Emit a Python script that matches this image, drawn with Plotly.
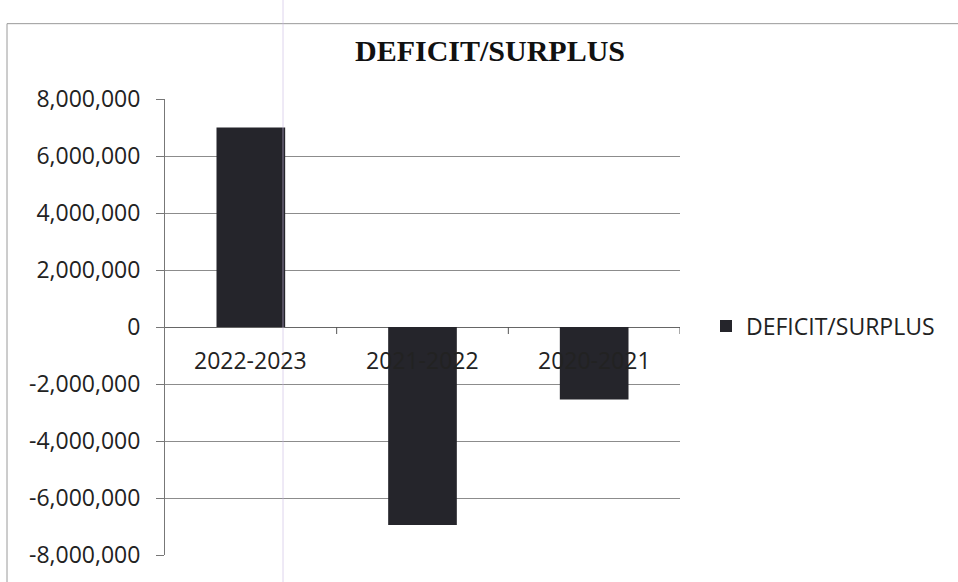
import plotly.graph_objects as go

# Data
periods = ["2022-2023", "2021-2022", "2020-2021"]
balance = [7000000, -6950000, -2540000]
series_name = "DEFICIT/SURPLUS"
tick_values = [8000000, 6000000, 4000000, 2000000, 0, -2000000, -4000000, -6000000, -8000000]
tick_labels = ["8,000,000", "6,000,000", "4,000,000", "2,000,000", "0",
               "-2,000,000", "-4,000,000", "-6,000,000", "-8,000,000"]

W, H = 958, 582
L, R, T, B = 165, 278, 99, 23
plot_w = W - L - R
plot_h = H - T - B


def px_to_paper_x(px):
    return (px - L) / plot_w


def px_to_paper_y(py):
    return (H - B - py) / plot_h


fig = go.Figure()
fig.add_trace(go.Bar(
    x=periods, y=balance, name=series_name,
    width=0.4, marker=dict(color="#25252b", line=dict(width=0)),
    showlegend=True,
))

# Category labels sit just below the zero line
annotations = [
    dict(x=p, y=0, xref="x", yref="y", text=p, showarrow=False,
         yshift=-33, yanchor="middle", xanchor="center",
         font=dict(family="Open Sans", size=23, color="#222222"))
    for p in periods
]
annotations.append(dict(
    x=px_to_paper_x(490), y=px_to_paper_y(50), xref="paper", yref="paper",
    text="<b>DEFICIT/SURPLUS</b>", showarrow=False,
    xanchor="center", yanchor="middle",
    font=dict(family="Liberation Serif", size=30, color="#111111"),
))

shapes = []
# Category boundary ticks hanging below the zero line
for bx in [0.5, 1.5, 2.5]:
    shapes.append(dict(type="line", xref="x", yref="y", ysizemode="pixel",
                       yanchor=0, x0=bx, x1=bx, y0=0, y1=-7,
                       line=dict(color="#555555", width=1)))
# Chart area border
shapes.append(dict(type="rect", xref="paper", yref="paper",
                   x0=px_to_paper_x(7), x1=px_to_paper_x(975),
                   y0=px_to_paper_y(600), y1=px_to_paper_y(23),
                   line=dict(color="#9a9a9a", width=1), layer="below"))
# Faint vertical crease line
shapes.append(dict(type="line", xref="paper", yref="paper",
                   x0=px_to_paper_x(283), x1=px_to_paper_x(283),
                   y0=px_to_paper_y(600), y1=px_to_paper_y(-10),
                   line=dict(color="rgba(200,185,225,0.6)", width=1), layer="above"))

fig.update_layout(
    width=W, height=H,
    margin=dict(l=L, r=R, t=T, b=B, pad=0),
    paper_bgcolor="white", plot_bgcolor="white",
    annotations=annotations, shapes=shapes,
    legend=dict(x=px_to_paper_x(706), y=px_to_paper_y(328),
                xanchor="left", yanchor="middle",
                font=dict(family="Open Sans", size=23, color="#222222"),
                bgcolor="rgba(0,0,0,0)"),
    xaxis=dict(type="category", range=[-0.5, 2.5], showticklabels=False,
               showgrid=False, zeroline=False, showline=False, ticks=""),
    yaxis=dict(range=[-8000000, 8000000], tickvals=tick_values, ticktext=tick_labels,
               showgrid=True, gridcolor="#8c8c8c", gridwidth=1,
               zeroline=True, zerolinecolor="#666666", zerolinewidth=1,
               showline=True, linecolor="#777777", linewidth=1,
               ticks="outside", ticklen=8, tickcolor="#777777",
               tickfont=dict(family="Open Sans", size=23, color="#222222"),
               ticklabelstandoff=11),
)

fig.write_html("out.html")
